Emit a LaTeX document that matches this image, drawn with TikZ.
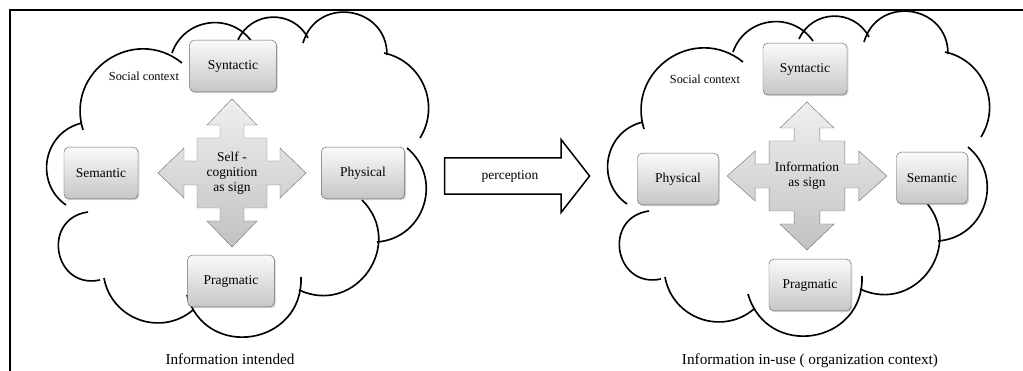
\documentclass[tikz,border=0pt]{standalone}
\usepackage{fontspec}
\setmainfont{Liberation Serif}
\usepackage{tikz}
\usetikzlibrary{shapes.arrows,shadows}
\definecolor{boxedge}{HTML}{6A6A6A}
\definecolor{signedge}{HTML}{7A7A7A}

\tikzset{
  puff/.code={\pgfmathsetmacro\puffloose{1.7029/(1+cos(#1))}%
    \tikzset{bend left=#1, looseness=\puffloose}},
  pics/socialcloud/.style={code={
    \draw[cloudline] (-174,27) to[puff=66] (-158,-55)
      (-157,-48) to[puff=73] (-58,-115)
      (-68,-125) to[puff=63] (12,-136)
      (-2,-138) to[puff=64] (68,-140)
      (63,-135) to[puff=82] (147,-123)
      (144,-125) to[puff=55] (180,-40)
      (167,-30) to[puff=68] (137,64)
      (122,22) to[puff=80] (59,112)
      (61,99) to[puff=83] (-53,117)
      (-47,132) to[puff=60] (-136,100)
      (-140,102) to[puff=92] (-152,34);
  }},
  pics/crossarrow/.style={code={
    \draw[signshape] (0,-74) -- (25,-48) -- (12,-48) -- (12,-35) -- (35,-35)
      -- (35,-12) -- (48,-12) -- (48,-25) -- (74,0) -- (48,25) -- (48,12)
      -- (35,12) -- (35,35) -- (12,35) -- (12,48) -- (25,48) -- (0,74)
      -- (-25,48) -- (-12,48) -- (-12,35) -- (-35,35) -- (-35,12) -- (-48,12)
      -- (-48,25) -- (-74,0) -- (-48,-25) -- (-48,-12) -- (-35,-12)
      -- (-35,-35) -- (-12,-35) -- (-12,-48) -- (-25,-48) -- cycle;
  }}
}

\begin{document}
\begin{tikzpicture}[x=0.03cm, y=-0.03cm,
  cloudline/.style={draw=black, line width=1.4pt},
  box/.style={draw=boxedge, rounded corners=4pt, top color=gray!4, bottom color=gray!45,
    minimum height=1.55cm, font=\fontsize{11.5}{13}\selectfont,
    drop shadow={opacity=.35, shadow xshift=1.2pt, shadow yshift=-1.2pt}},
  signshape/.style={draw=signedge, top color=gray!12, bottom color=gray!48},
  signtext/.style={align=center, font=\fontsize{11.5}{13}\selectfont},
  context/.style={font=\fontsize{10.5}{12}\selectfont},
  caption/.style={font=\fontsize{13}{15}\selectfont},
  bigarrow/.style={single arrow, draw=black, line width=1.3pt, fill=white,
    minimum height=4.35cm, single arrow head extend=15.7pt, single arrow tip angle=104,
    text height=8pt, text depth=2.5pt, inner ysep=9.6pt,
    font=\fontsize{11.5}{13}\selectfont}
]
\useasboundingbox (0,0) rectangle (1023,371);

% frame
\draw[line width=1.5pt] (1023,10) -- (10,10) -- (10,371);

% left side: information intended
\pic at (240,178) {socialcloud};
\pic at (232,173) {crossarrow};
\node[signtext] (signL) at (232,173) {Self -\\cognition\\as sign};
\node[box, minimum width=2.6cm] (synL) at (233,66) {Syntactic};
\node[box, minimum width=2.22cm] (semL) at (101,173) {Semantic};
\node[box, minimum width=2.5cm] (phyL) at (363,173) {Physical};
\node[box, minimum width=2.6cm] (praL) at (231,281) {Pragmatic};
\node[context] (socL) at (144,76) {Social context};
\node[caption] (capL) at (230,359) {Information intended};

% perception
\node[bigarrow] (perc) at (510,176) {perception};

% right side: information in use
\pic at (801,177) {socialcloud};
\pic[xscale=1.08] at (807,176) {crossarrow};
\node[signtext] (signR) at (807,176) {Information\\as sign};
\node[box, minimum width=2.52cm] (synR) at (805,69) {Syntactic};
\node[box, minimum width=2.43cm] (phyR) at (678,179) {Physical};
\node[box, minimum width=2.13cm] (semR) at (932,178) {Semantic};
\node[box, minimum width=2.46cm] (praR) at (810,285) {Pragmatic};
\node[context] (socR) at (705,79) {Social context};
\node[caption] (capR) at (810,361) {Information in-use ( organization context)};

\end{tikzpicture}
\end{document}
